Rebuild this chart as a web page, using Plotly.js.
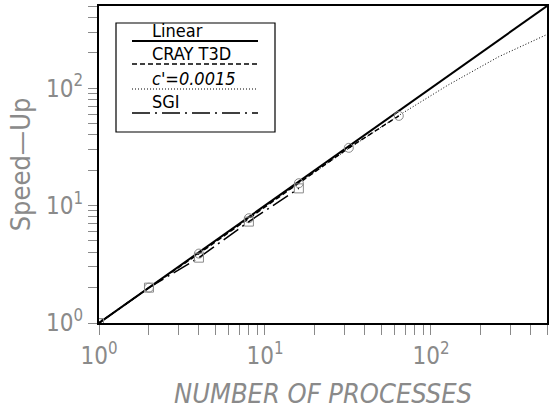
<!DOCTYPE html>
<html><head><meta charset="utf-8">
<script src="https://cdn.plot.ly/plotly-3.0.1.min.js"></script>
<style>body{margin:0;background:#fff}#c{width:552px;height:409px}</style>
</head><body><div id="c"></div>
<script>
// Data
const linearX = [1, 500];
const linearY = [1, 500];
const crayX = [1, 2, 4, 8, 16, 32, 64];
const crayY = [1, 2, 3.9, 7.8, 15.5, 31, 58];
const modelX = [1, 2, 4, 8, 16, 32, 64, 128, 256, 500];
const modelY = [1, 2, 4, 7.9, 15.6, 30.6, 58.5, 107, 185, 286];
const sgiX = [1, 2, 4, 8, 16];
const sgiY = [1, 2, 3.6, 7.3, 14];
const legendNames = ["Linear", "CRAY T3D", "c'=0.0015", "SGI"];

const FONT = "Liberation Sans Narrow, DejaVu Sans Condensed, Liberation Sans, sans-serif";
const GRAY = "#8a8a8a";

function ticks(max) {
  const v = [], t = [];
  for (let d = 1; d <= max; d *= 10) {
    for (let k = 1; k <= 9; k++) {
      const val = k * d;
      if (val > max + 1e-9) break;
      v.push(val);
      t.push(k === 1 ? "10<sup>" + Math.round(Math.log10(d)) + "</sup>" : "");
    }
  }
  return {v, t};
}
const xt = ticks(500), yt = ticks(500);

const DOT = "1px,2px";
const LDD = "18px,5px,2px,5px";
const traces = [
  {x: linearX, y: linearY, mode: "lines", line: {color: "#000", width: 2}},
  {x: modelX, y: modelY, mode: "lines", line: {color: "#000", width: 1, dash: DOT}},
  {x: crayX, y: crayY, mode: "lines+markers", line: {color: "#000", width: 1.5, dash: "5px,3px"},
   marker: {symbol: "circle-open", size: 9, color: GRAY, line: {width: 1, color: GRAY}}},
  {x: sgiX, y: sgiY, mode: "lines+markers", line: {color: "#000", width: 1.5, dash: LDD},
   marker: {symbol: "square-open", size: 9, color: GRAY, line: {width: 1, color: GRAY}}}
];

// Legend drawn in paper coordinates
const L = 99, R = 547, T = 6, B = 323;
const px = x => (x - L) / (R - L);
const py = y => (B - y) / (B - T);
const shapes = [
  {type: "rect", xref: "paper", yref: "paper", x0: px(116), x1: px(275), y0: py(23), y1: py(132),
   line: {color: "#000", width: 1.2}, fillcolor: "rgba(0,0,0,0)"},
  {type: "line", xref: "paper", yref: "paper", x0: px(132), x1: px(258), y0: py(41), y1: py(41), line: {color: "#000", width: 2}},
  {type: "line", xref: "paper", yref: "paper", x0: px(132), x1: px(258), y0: py(64), y1: py(64), line: {color: "#000", width: 1.5, dash: "5px,3px"}},
  {type: "line", xref: "paper", yref: "paper", x0: px(132), x1: px(258), y0: py(89), y1: py(89), line: {color: "#000", width: 1, dash: DOT}},
  {type: "line", xref: "paper", yref: "paper", x0: px(132), x1: px(258), y0: py(113), y1: py(113), line: {color: "#000", width: 1.5, dash: LDD}}
];
const labelY = [31, 54, 78, 101];
const annotations = legendNames.map((n, i) => ({
  xref: "paper", yref: "paper", x: px(150), y: py(labelY[i]), xanchor: "left", yanchor: "middle",
  text: i === 2 ? "<i>" + n + "</i>" : n, showarrow: false,
  font: {family: FONT, size: 18, color: "#000"}
}));

const layout = {
  width: 552, height: 409,
  margin: {l: 99, r: 5, t: 6, b: 86},
  paper_bgcolor: "#fff", plot_bgcolor: "#fff",
  showlegend: false,
  xaxis: {type: "log", range: [0, Math.log10(500)], tickmode: "array", tickvals: xt.v, ticktext: xt.t,
    tickangle: 0, automargin: false,
    ticks: "outside", ticklen: 10, tickcolor: GRAY, tickwidth: 1, showgrid: false, zeroline: false,
    showline: true, linecolor: "#000", linewidth: 2, mirror: true,
    tickfont: {family: FONT, size: 24, color: GRAY},
    title: {text: "<i>NUMBER OF PROCESSES</i>", font: {family: FONT, size: 27, color: GRAY}, standoff: 24}},
  yaxis: {type: "log", range: [0, Math.log10(500)], tickmode: "array", tickvals: yt.v, ticktext: yt.t,
    tickangle: 0, automargin: false,
    ticks: "outside", ticklen: 9, tickcolor: GRAY, tickwidth: 1, showgrid: false, zeroline: false,
    showline: true, linecolor: "#000", linewidth: 2, mirror: true,
    tickfont: {family: FONT, size: 24, color: GRAY},
    title: {text: "Speed\u2014Up", font: {family: FONT, size: 27, color: GRAY}, standoff: 8}},
  shapes, annotations
};
Plotly.newPlot("c", traces, layout, {staticPlot: true, displayModeBar: false});
</script></body></html>
